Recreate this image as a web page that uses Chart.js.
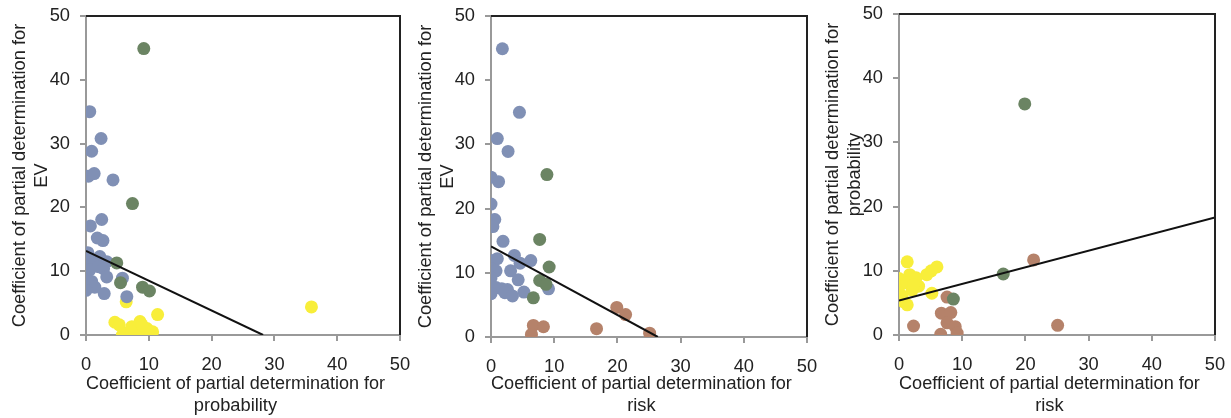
<!DOCTYPE html>
<html>
<head>
<meta charset="utf-8">
<script src="https://cdn.jsdelivr.net/npm/chart.js@4.4.1/dist/chart.umd.min.js"></script>
<style>
  body { margin: 0; background: #fff; }
  .wrap { position: absolute; top: 0; height: 418px; }
  canvas { display: block; }
</style>
</head>
<body>
<div class="wrap" id="w1" style="left:0;width:410px"><canvas id="c1"></canvas></div>
<div class="wrap" id="w2" style="left:410px;width:412px"><canvas id="c2"></canvas></div>
<div class="wrap" id="w3" style="left:815px;width:416px"><canvas id="c3"></canvas></div>
<script>
// axis ticks shared by all panels
const ticks = [0, 10, 20, 30, 40, 50];

// panel 1: probability (x) vs EV (y)
const p1Blue = [[0.6,35.0],[2.4,30.8],[0.9,28.8],[0.4,24.9],[1.3,25.3],[4.3,24.3],[0.7,17.1],[2.5,18.1],
  [1.8,15.2],[2.7,14.8],[0,12.3],[0.6,12.0],[2.2,12.3],[3.3,11.5],[1.2,11.2],[0,10.2],[0.6,10.2],[2.0,10.7],
  [2.8,10.4],[0.1,8.6],[0.9,8.4],[1.4,7.5],[0,7.0],[2.9,6.5],[3.3,9.1],[5.8,8.9],[6.5,6.0],[0.3,12.9]];
const p1Green = [[9.2,44.9],[7.4,20.6],[4.9,11.3],[5.5,8.2],[9.0,7.5],[10.1,6.9]];
const p1Yellow = [[35.9,4.4],[6.4,5.2],[11.4,3.2],[4.6,2.0],[5.3,1.6],[8.6,2.1],[5.8,0],[6.5,0.3],[7.3,0.5],
  [7.8,0.3],[8.1,1.0],[9.1,0.3],[9.7,1.0],[10.6,0.5],[7.3,1.3],[8.9,1.6]];
const p1Line = [[0,13.2],[28.2,0]];

// panel 2: risk (x) vs EV (y)
const p2Blue = [[1.8,44.9],[4.5,35.0],[1.0,30.9],[2.7,28.9],[0,24.9],[1.2,24.2],[0,20.7],[0.6,18.3],[0.3,17.2],
  [1.9,14.9],[3.7,12.7],[4.6,11.5],[6.3,11.9],[0,11.9],[1.0,12.2],[0,10.6],[0.8,10.3],[0,9.2],[3.1,10.3],
  [4.3,8.9],[0,7.8],[0.8,7.7],[1.7,7.5],[2.6,7.4],[0,6.75],[2.2,6.9],[3.4,6.4],[5.2,7.0],[9.1,7.5]];
const p2Green = [[8.85,25.3],[7.7,15.2],[9.2,10.9],[7.7,8.8],[8.7,8.2],[6.7,6.1]];
const p2Brown = [[19.9,4.6],[21.3,3.5],[6.7,1.8],[8.3,1.6],[6.4,0.4],[16.7,1.3],[25.1,0.6]];
const p2Line = [[0,14.1],[26.4,0]];

// panel 3: risk (x) vs probability (y)
const p3Green = [[19.9,36.0],[16.5,9.5],[8.6,5.6]];
const p3Brown = [[21.3,11.7],[7.6,5.9],[6.7,3.4],[8.2,3.5],[7.6,1.9],[8.9,1.3],[9.2,0.3],[6.6,0.1],[2.3,1.4],[25.1,1.5]];
const p3Yellow = [[1.3,11.4],[6.0,10.6],[5.1,10.0],[4.4,9.4],[0,8.8],[1.7,9.4],[2.7,8.9],[3.1,7.6],[0,7.5],
  [1.3,8.1],[2.1,7.0],[0.5,6.1],[0.7,5.2],[1.3,4.7],[5.2,6.5],[2.3,7.8]];
const p3Line = [[0,5.35],[50,18.3]];

const BLUE = "#8090b5", GREEN = "#6b8463", YELLOW = "#f8ee3a", BROWN = "#b5826a";
const FONT = { family: "'Liberation Sans', Arial, sans-serif", size: 18.3 };
const PAD = "   "; // trailing spaces nudge the x title a little left, as in the original

function pts(arr) { return arr.map(p => ({ x: p[0], y: p[1] })); }
function dots(arr, color) {
  return { type: "scatter", data: pts(arr), backgroundColor: color, borderWidth: 0, pointRadius: 6.5, pointHoverRadius: 6.5 };
}
function line(arr) {
  return { type: "line", data: pts(arr), borderColor: "#111", borderWidth: 2, pointRadius: 0, fill: false };
}

// black top and right edges of the plot box
const frame = {
  id: "frame",
  afterDatasetsDraw(chart) {
    const a = chart.chartArea, ctx = chart.ctx;
    ctx.save();
    ctx.strokeStyle = "#222";
    ctx.lineWidth = 2;
    ctx.beginPath();
    ctx.moveTo(a.left, a.top);
    ctx.lineTo(a.right, a.top);
    ctx.lineTo(a.right, a.bottom);
    ctx.stroke();
    ctx.restore();
  },
};

function makeChart(id, datasets, o) {
  new Chart(document.getElementById(id), {
    data: { datasets: datasets },
    options: {
      responsive: true,
      maintainAspectRatio: false,
      animation: false,
      events: [],
      layout: { padding: { left: 0, right: o.right, top: o.top, bottom: 0 } },
      plugins: { legend: { display: false }, tooltip: { enabled: false } },
      scales: {
        x: {
          type: "linear", min: 0, max: 50,
          afterBuildTicks: s => { s.ticks = ticks.map(v => ({ value: v })); },
          afterFit: s => { s.height = o.xh; s.paddingLeft = 0; s.paddingRight = 0; },
          ticks: { color: "#222", font: FONT, padding: 13, maxRotation: 0 },
          grid: { drawOnChartArea: false, drawTicks: true, tickLength: 6, color: "#999", lineWidth: 2 },
          border: { color: "#999", width: 2 },
          title: { display: true, text: o.xt.map(t => t + PAD), color: "#222", font: FONT, padding: { top: 0, bottom: 1 } },
        },
        y: {
          type: "linear", min: 0, max: 50,
          afterBuildTicks: s => { s.ticks = ticks.map(v => ({ value: v })); },
          afterFit: s => { s.width = o.yw; s.paddingTop = 0; s.paddingBottom = 0; },
          ticks: { color: "#222", font: FONT, padding: 10 },
          grid: { drawOnChartArea: false, drawTicks: true, tickLength: 6, color: "#999", lineWidth: 2 },
          border: { color: "#999", width: 2 },
          title: { display: true, text: o.yt, color: "#222", font: FONT, padding: { top: o.ytp, bottom: 0 } },
        },
      },
    },
    plugins: [frame],
  });
}

makeChart("c1", [line(p1Line), dots(p1Green, GREEN), dots(p1Blue, BLUE), dots(p1Yellow, YELLOW)], {
  right: 10, top: 16, xh: 83, yw: 86, ytp: 9,
  xt: ["Coefficient of partial determination for", "probability"],
  yt: ["Coefficient of partial determination for", "EV"],
});
makeChart("c2", [line(p2Line), dots(p2Green, GREEN), dots(p2Blue, BLUE), dots(p2Brown, BROWN)], {
  right: 15, top: 16, xh: 81, yw: 81, ytp: 5,
  xt: ["Coefficient of partial determination for", "risk"],
  yt: ["Coefficient of partial determination for", "EV"],
});
makeChart("c3", [line(p3Line), dots(p3Green, GREEN), dots(p3Brown, BROWN), dots(p3Yellow, YELLOW)], {
  right: 16, top: 14, xh: 83, yw: 84, ytp: 7,
  xt: ["Coefficient of partial determination for", "risk"],
  yt: ["Coefficient of partial determination for", "probability"],
});
</script>
</body>
</html>
